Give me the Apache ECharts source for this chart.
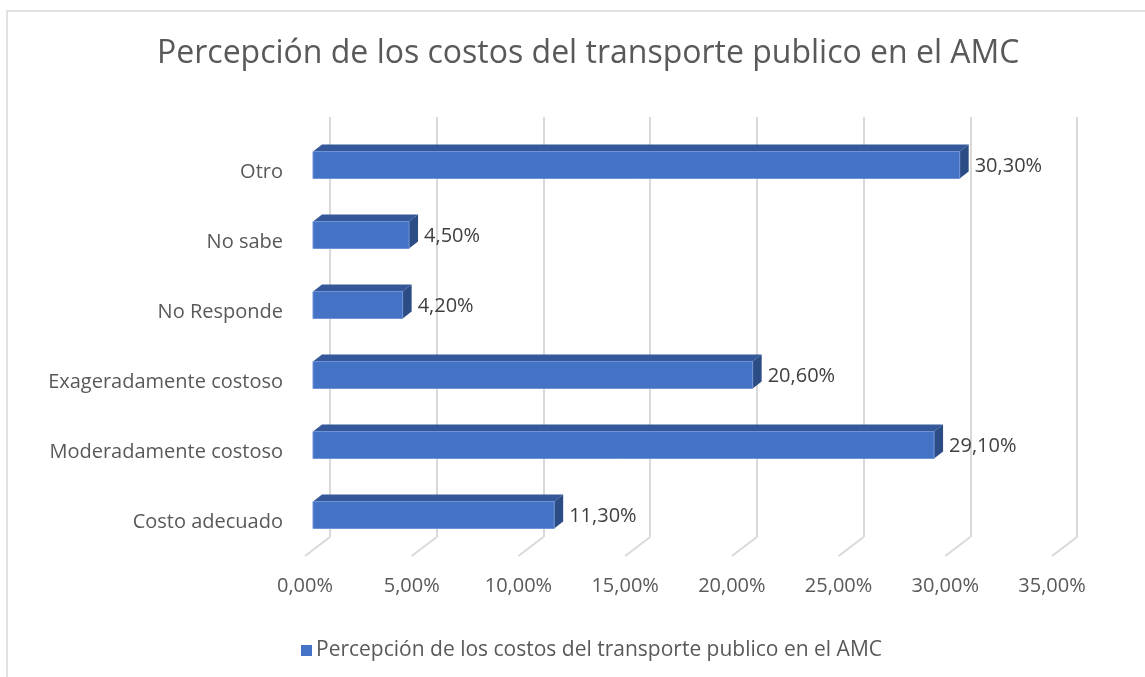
<!DOCTYPE html>
<html>
<head>
<meta charset="utf-8">
<script src="https://cdn.jsdelivr.net/npm/echarts@6/dist/echarts.min.js"></script>
<style>
  html, body { margin: 0; padding: 0; background: #fff; }
  #chart { width: 1145px; height: 677px; }
</style>
</head>
<body>
<div id="chart"></div>
<script>
// datos
var categorias = ['Costo adecuado', 'Moderadamente costoso', 'Exageradamente costoso', 'No Responde', 'No sabe', 'Otro'];
var valores = [11.3, 29.1, 20.6, 4.2, 4.5, 30.3];
var ticks = [0, 5, 10, 15, 20, 25, 30, 35];
var titulo = 'Percepción de los costos del transporte publico en el AMC';

var fuente = '"Open Sans", "Noto Sans", sans-serif';
var gris = '#595959';

function fmt(v) {
  return v.toFixed(2).replace('.', ',') + '%';
}

var myChart = echarts.init(document.getElementById('chart'));

var option = {
  backgroundColor: '#fff',
  animation: false,
  textStyle: { fontFamily: fuente },
  title: {
    text: titulo,
    left: 152,
    top: 33,
    textStyle: { fontSize: 32, fontWeight: 'normal', color: gris, fontFamily: fuente }
  },
  legend: {
    left: 296,
    top: 635,
    icon: 'rect',
    itemWidth: 11,
    itemHeight: 11,
    itemGap: 6,
    textStyle: { fontSize: 21, color: gris, fontFamily: fuente, padding: [0, 0, 0, -1] },
    data: [titulo]
  },
  graphic: [{
    type: 'rect',
    shape: { x: 7, y: 11, width: 1200, height: 700 },
    style: { fill: 'none', stroke: '#d9d9d9', lineWidth: 1.5 },
    silent: true,
    z: -1
  }],
  grid: [
    // plano frontal (barras)
    { left: 313, top: 130, width: 747, height: 420 },
    // plano trasero (lineas de division)
    { left: 330, top: 117, width: 747, height: 420 },
    // etiquetas del eje x
    { left: 305, top: 556, width: 747, height: 1 },
    // etiquetas de categorias
    { left: 313, top: 137, width: 747, height: 420 }
  ],
  xAxis: [
    { gridIndex: 0, type: 'value', min: 0, max: 35, interval: 5, show: false },
    {
      gridIndex: 1, type: 'value', min: 0, max: 35, interval: 5,
      axisLine: { show: false }, axisTick: { show: false }, axisLabel: { show: false },
      splitLine: { show: true, lineStyle: { color: '#d9d9d9', width: 2 } }
    },
    {
      gridIndex: 2, type: 'value', min: 0, max: 35, interval: 5,
      axisLine: { show: false }, axisTick: { show: false }, splitLine: { show: false },
      axisLabel: { margin: 19, fontSize: 20, color: gris, fontFamily: fuente, formatter: function (v) { return fmt(v); } }
    },
    { gridIndex: 3, type: 'value', min: 0, max: 35, show: false }
  ],
  yAxis: [
    { gridIndex: 0, type: 'category', data: categorias, show: false },
    { gridIndex: 1, type: 'value', min: 0, max: 1, show: false },
    { gridIndex: 2, type: 'value', min: 0, max: 1, show: false },
    {
      gridIndex: 3, type: 'category', data: categorias,
      axisLine: { show: false }, axisTick: { show: false }, splitLine: { show: false },
      axisLabel: { margin: 30, fontSize: 20, color: gris, fontFamily: fuente }
    }
  ],
  series: [
    {
      // tramos inclinados del piso
      type: 'custom',
      xAxisIndex: 1,
      yAxisIndex: 1,
      silent: true,
      data: ticks,
      renderItem: function (params, api) {
        var p = api.coord([api.value(0), 0]);
        return {
          type: 'line',
          shape: { x1: p[0], y1: p[1], x2: p[0] - 25, y2: p[1] + 19 },
          style: { stroke: '#d9d9d9', lineWidth: 2 }
        };
      }
    },
    {
      name: titulo,
      type: 'custom',
      xAxisIndex: 0,
      yAxisIndex: 0,
      itemStyle: { color: '#4472C4' },
      data: valores.map(function (v, i) { return [v, i]; }),
      renderItem: function (params, api) {
        var v = api.value(0);
        var c = api.value(1);
        var p0 = api.coord([0, c]);
        var p1 = api.coord([v, c]);
        var h = api.size([0, 1])[1] * 27 / 70;
        var dx = 9, dy = -7;
        var x0 = p0[0], x1 = p1[0], yt = p0[1] - h / 2, yb = p0[1] + h / 2;
        return {
          type: 'group',
          children: [
            {
              type: 'polygon',
              shape: { points: [[x0, yt], [x1, yt], [x1 + dx, yt + dy], [x0 + dx, yt + dy]] },
              style: { fill: '#34589A' }
            },
            {
              type: 'polygon',
              shape: { points: [[x1, yt], [x1 + dx, yt + dy], [x1 + dx, yb + dy], [x1, yb]] },
              style: { fill: '#2C4C85' }
            },
            {
              type: 'rect',
              shape: { x: x0, y: yt, width: x1 - x0, height: h },
              style: { fill: '#4472C4', stroke: '#6F93D6', lineWidth: 1 }
            },
            {
              type: 'text',
              style: {
                x: x1 + dx + 6, y: p0[1] + 1,
                text: fmt(v),
                fill: '#404040',
                font: '20px ' + fuente,
                verticalAlign: 'middle',
                align: 'left'
              }
            }
          ]
        };
      }
    }
  ]
};

myChart.setOption(option);
window.onresize = function () {
  myChart.resize();
};
</script>
</body>
</html>
